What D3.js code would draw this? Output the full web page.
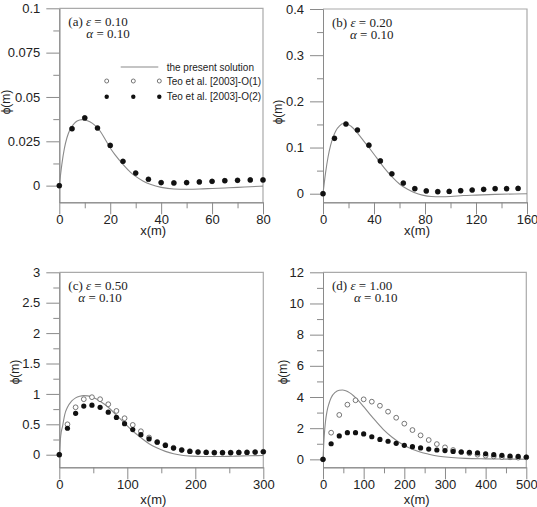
<!DOCTYPE html>
<html>
<head>
<meta charset="utf-8">
<script src="https://cdn.jsdelivr.net/npm/d3@7"></script>
<style>
body { margin: 0; background: #fff; }
svg text { font-family: "Liberation Sans", Arial, sans-serif; fill: #222; }
</style>
</head>
<body>
<svg id="chart" width="537" height="507"></svg>
<script>
// ---- data ----
// (a) eps = 0.10
var xA = [0, 5, 10, 15, 20, 25, 30, 35, 40, 45, 50, 55, 60, 65, 70, 75, 80];
var o1A = [0, 0.0321, 0.0382, 0.0325, 0.0227, 0.0137, 0.0071, 0.0036, 0.0017, 0.0015, 0.0017, 0.0021, 0.0024, 0.0028, 0.0030, 0.0032, 0.0032];
var o2A = [0, 0.0321, 0.0382, 0.0325, 0.0227, 0.0137, 0.0071, 0.0036, 0.0017, 0.0015, 0.0017, 0.0021, 0.0024, 0.0028, 0.0030, 0.0032, 0.0032];
var solAx = [0, 1, 2, 3, 4, 5, 6, 7, 8, 9, 10, 12, 14, 16, 18, 20, 22, 25, 28, 30, 33, 36, 40, 45, 50, 55, 60, 65, 70, 75, 80];
var solAy = [0, 0.012, 0.021, 0.027, 0.031, 0.0335, 0.0353, 0.0364, 0.0370, 0.0372, 0.0370, 0.0360, 0.0340, 0.0308, 0.0262, 0.0212, 0.0172, 0.0120, 0.0075, 0.0052, 0.0025, 0.0006, -0.0010, -0.0019, -0.0020, -0.0019, -0.0016, -0.0013, -0.0010, -0.0006, -0.0003];

// (b) eps = 0.20
var xB = [0, 9, 18, 27, 36, 45, 54, 63, 72, 81, 90, 99, 108, 117, 126, 135, 144, 153];
var o1B = [0, 0.120, 0.151, 0.138, 0.105, 0.071, 0.043, 0.023, 0.011, 0.006, 0.0045, 0.005, 0.0065, 0.008, 0.0094, 0.011, 0.011, 0.0115];
var o2B = [0, 0.120, 0.151, 0.138, 0.105, 0.071, 0.043, 0.023, 0.011, 0.006, 0.0045, 0.005, 0.0065, 0.008, 0.0094, 0.011, 0.011, 0.0115];
var solBx = [0, 2, 4, 6, 8, 10, 13, 16, 19, 22, 26, 30, 36, 42, 48, 54, 60, 66, 72, 78, 85, 92, 100, 110, 120, 135, 150, 160];
var solBy = [0, 0.045, 0.080, 0.105, 0.123, 0.136, 0.147, 0.152, 0.151, 0.146, 0.135, 0.121, 0.100, 0.078, 0.056, 0.037, 0.021, 0.010, 0.002, -0.003, -0.006, -0.0065, -0.006, -0.004, -0.003, -0.0015, -0.0005, 0];

// (c) eps = 0.50
var xC = [0, 12, 24, 36, 48, 60, 72, 84, 96, 108, 120, 132, 144, 156, 168, 180, 192, 204, 216, 228, 240, 252, 264, 276, 288, 300];
var o1C = [0, 0.50, 0.78, 0.913, 0.946, 0.913, 0.83, 0.72, 0.60, 0.49, 0.386, 0.283, 0.21, 0.16, 0.115, 0.08, 0.058, 0.046, 0.040, 0.035, 0.034, 0.035, 0.037, 0.040, 0.044, 0.050];
var o2C = [0, 0.435, 0.68, 0.80, 0.815, 0.78, 0.70, 0.614, 0.51, 0.413, 0.33, 0.26, 0.207, 0.152, 0.109, 0.076, 0.054, 0.043, 0.038, 0.033, 0.033, 0.033, 0.038, 0.038, 0.043, 0.049];
var solCx = [0, 2, 5, 8, 12, 18, 24, 30, 36, 42, 50, 60, 72, 84, 96, 108, 120, 132, 144, 156, 168, 180, 195, 210, 230, 255, 280, 300];
var solCy = [0, 0.30, 0.48, 0.66, 0.78, 0.88, 0.935, 0.962, 0.972, 0.968, 0.94, 0.88, 0.78, 0.65, 0.52, 0.39, 0.28, 0.18, 0.11, 0.055, 0.015, -0.01, -0.024, -0.03, -0.03, -0.025, -0.018, -0.012];

// (d) eps = 1.00
var xD = [0, 20, 40, 60, 80, 100, 120, 140, 160, 180, 200, 220, 240, 260, 280, 300, 320, 340, 360, 380, 400, 420, 440, 460, 480, 500];
var o1D = [0, 1.71, 2.85, 3.51, 3.79, 3.85, 3.70, 3.44, 3.06, 2.67, 2.29, 1.88, 1.54, 1.24, 0.98, 0.77, 0.60, 0.47, 0.39, 0.30, 0.24, 0.19, 0.15, 0.13, 0.11, 0.13];
var o2D = [0, 1.00, 1.50, 1.71, 1.71, 1.63, 1.45, 1.28, 1.16, 1.03, 0.90, 0.81, 0.73, 0.66, 0.60, 0.56, 0.51, 0.47, 0.45, 0.41, 0.36, 0.30, 0.26, 0.21, 0.19, 0.15];
var solDx = [0, 3, 6, 10, 15, 20, 30, 40, 48, 56, 65, 75, 86, 100, 115, 130, 150, 170, 190, 210, 235, 260, 285, 315, 350, 400, 450, 500];
var solDy = [0, 1.5, 2.4, 3.1, 3.6, 3.95, 4.3, 4.43, 4.45, 4.4, 4.28, 4.08, 3.8, 3.38, 2.9, 2.45, 1.88, 1.42, 1.05, 0.76, 0.5, 0.33, 0.2, 0.12, 0.06, 0.03, 0.015, 0.01];

// tick values
var xTicksA = [0, 20, 40, 60, 80], xMinorA = [10, 30, 50, 70];
var yTicksA = [0, 0.025, 0.05, 0.075, 0.1], yMinorA = [0.0125, 0.0375, 0.0625, 0.0875];
var xTicksB = [0, 40, 80, 120, 160], xMinorB = [20, 60, 100, 140];
var yTicksB = [0, 0.1, 0.2, 0.3, 0.4], yMinorB = [0.05, 0.15, 0.25, 0.35];
var xTicksC = [0, 100, 200, 300], xMinorC = [50, 150, 250];
var yTicksC = [0, 0.5, 1, 1.5, 2, 2.5, 3], yMinorC = [0.25, 0.75, 1.25, 1.75, 2.25, 2.75];
var xTicksD = [0, 100, 200, 300, 400, 500], xMinorD = [50, 150, 250, 350, 450];
var yTicksD = [0, 2, 4, 6, 8, 10, 12], yMinorD = [1, 3, 5, 7, 9, 11];

var legendLabels = ["the present solution", "Teo et al. [2003]-O(1)", "Teo et al. [2003]-O(2)"];

// ---- panel layout ----
var panels = [
    {tag: "(a)", eps: "0.10", alpha: "0.10", x: xA, o1: o1A, o2: o2A, sx: solAx, sy: solAy,
     xt: xTicksA, xm: xMinorA, yt: yTicksA, ym: yMinorA, xDom: [0, 80], yDom: [-0.0094, 0.1],
     left: 59.3, right: 263, top: 8.3, bottom: 202.3, alphaDx: 18, ylabX: 10, ylabY: 102, xlabDy: 33},
    {tag: "(b)", eps: "0.20", alpha: "0.10", x: xB, o1: o1B, o2: o2B, sx: solBx, sy: solBy,
     xt: xTicksB, xm: xMinorB, yt: yTicksB, ym: yMinorB, xDom: [0, 160], yDom: [-0.0186, 0.4],
     left: 323, right: 527, top: 9, bottom: 202.3, alphaDx: 18, ylabX: 282, ylabY: 112, xlabDy: 33},
    {tag: "(c)", eps: "0.50", alpha: "0.10", x: xC, o1: o1C, o2: o2C, sx: solCx, sy: solCy,
     xt: xTicksC, xm: xMinorC, yt: yTicksC, ym: yMinorC, xDom: [0, 300], yDom: [-0.207, 3],
     left: 59.3, right: 263.3, top: 272.3, bottom: 467.3, alphaDx: 10, ylabX: 19, ylabY: 372, xlabDy: 37},
    {tag: "(d)", eps: "1.00", alpha: "0.10", x: xD, o1: o1D, o2: o2D, sx: solDx, sy: solDy,
     xt: xTicksD, xm: xMinorD, yt: yTicksD, ym: yMinorD, xDom: [0, 500], yDom: [-0.51, 12],
     left: 323, right: 526.3, top: 272.3, bottom: 467.3, alphaDx: 22, ylabX: 287, ylabY: 372, xlabDy: 37}
];

var lineCol = "#8a8a8a";
var svg = d3.select("#chart");

panels.forEach(function(p) {
    var xScale = d3.scaleLinear().domain(p.xDom).range([p.left, p.right]);
    var yScale = d3.scaleLinear().domain(p.yDom).range([p.bottom, p.top]);
    var g = svg.append("g");

    // frame (top + right)
    g.append("path")
        .attr("d", `M${p.left},${p.top}H${p.right}V${p.bottom}`)
        .attr("fill", "none").attr("stroke", "#aaa").attr("stroke-width", 1.2);

    // y axis: minor then major
    g.append("g").attr("transform", `translate(${p.left},0)`)
        .call(d3.axisLeft(yScale).tickValues(p.ym).tickSize(6).tickSizeOuter(0).tickFormat(""));
    g.append("g").attr("transform", `translate(${p.left},0)`)
        .call(d3.axisLeft(yScale).tickValues(p.yt).tickSize(13).tickSizeOuter(0).tickPadding(6)
            .tickFormat(d => String(d)));

    // x axis
    g.append("g").attr("transform", `translate(0,${p.bottom})`)
        .call(d3.axisBottom(xScale).tickValues(p.xm).tickSize(6).tickSizeOuter(0).tickFormat(""));
    g.append("g").attr("transform", `translate(0,${p.bottom})`)
        .call(d3.axisBottom(xScale).tickValues(p.xt).tickSize(12).tickSizeOuter(0).tickPadding(0)
            .tickFormat(d => String(d)));

    g.selectAll(".domain, .tick line").attr("stroke", lineCol);
    g.selectAll(".tick text").attr("font-size", 13).attr("fill", "#333")
        .style("font-family", "'Liberation Sans', Arial, sans-serif");

    // axis titles
    g.append("text")
        .attr("x", (p.left + p.right) / 2 - 8)
        .attr("y", p.bottom + p.xlabDy)
        .attr("text-anchor", "middle").attr("font-size", 13).attr("fill", "#333")
        .text("x(m)");
    g.append("text")
        .attr("transform", `translate(${p.ylabX},${p.ylabY}) rotate(-90)`)
        .attr("text-anchor", "middle").attr("font-size", 12).attr("fill", "#333")
        .text("\u03d5(m)");

    // present solution
    var line = d3.line()
        .x((d, i) => xScale(p.sx[i]))
        .y(d => yScale(d))
        .curve(d3.curveMonotoneX);
    g.append("path").datum(p.sy)
        .attr("d", line)
        .attr("fill", "none").attr("stroke", lineCol).attr("stroke-width", 1.1);

    // O(1) open circles
    g.selectAll("circle.o1").data(p.o1).enter().append("circle")
        .attr("class", "o1")
        .attr("cx", (d, i) => xScale(p.x[i]))
        .attr("cy", d => yScale(d))
        .attr("r", 2.4)
        .attr("fill", "#fff").attr("stroke", "#555").attr("stroke-width", 0.8);

    // O(2) filled circles
    g.selectAll("circle.o2").data(p.o2).enter().append("circle")
        .attr("class", "o2")
        .attr("cx", (d, i) => xScale(p.x[i]))
        .attr("cy", d => yScale(d))
        .attr("r", 2.6)
        .attr("fill", "#111");

    // annotation
    var ann = g.append("text")
        .attr("x", p.left + 9).attr("y", p.top + 18)
        .style("font-family", "'Liberation Serif', 'Times New Roman', serif")
        .attr("font-size", 13).attr("fill", "#222");
    ann.append("tspan").text(p.tag + " ");
    ann.append("tspan").attr("font-style", "italic").text("\u03b5");
    ann.append("tspan").text(" = " + p.eps);
    var ann2 = g.append("text")
        .attr("x", p.left + 9 + p.alphaDx).attr("y", p.top + 30)
        .style("font-family", "'Liberation Serif', 'Times New Roman', serif")
        .attr("font-size", 13).attr("fill", "#222");
    ann2.append("tspan").attr("font-style", "italic").text("\u03b1");
    ann2.append("tspan").text(" = " + p.alpha);
});

// legend (inside panel a)
var leg = svg.append("g");
leg.append("line")
    .attr("x1", 120.7).attr("x2", 158.3).attr("y1", 67).attr("y2", 67)
    .attr("stroke", lineCol).attr("stroke-width", 1.1);
[106.7, 133.3, 159.3].forEach(function(cx) {
    leg.append("circle").attr("cx", cx).attr("cy", 81).attr("r", 2)
        .attr("fill", "#fff").attr("stroke", "#555").attr("stroke-width", 0.8);
    leg.append("circle").attr("cx", cx).attr("cy", 96.7).attr("r", 2.2)
        .attr("fill", "#111");
});
leg.selectAll("text").data(legendLabels).enter().append("text")
    .attr("x", 166.7)
    .attr("y", (d, i) => [70.5, 84.5, 100.2][i])
    .attr("font-size", 10).attr("fill", "#333")
    .text(d => d);
</script>
</body>
</html>
